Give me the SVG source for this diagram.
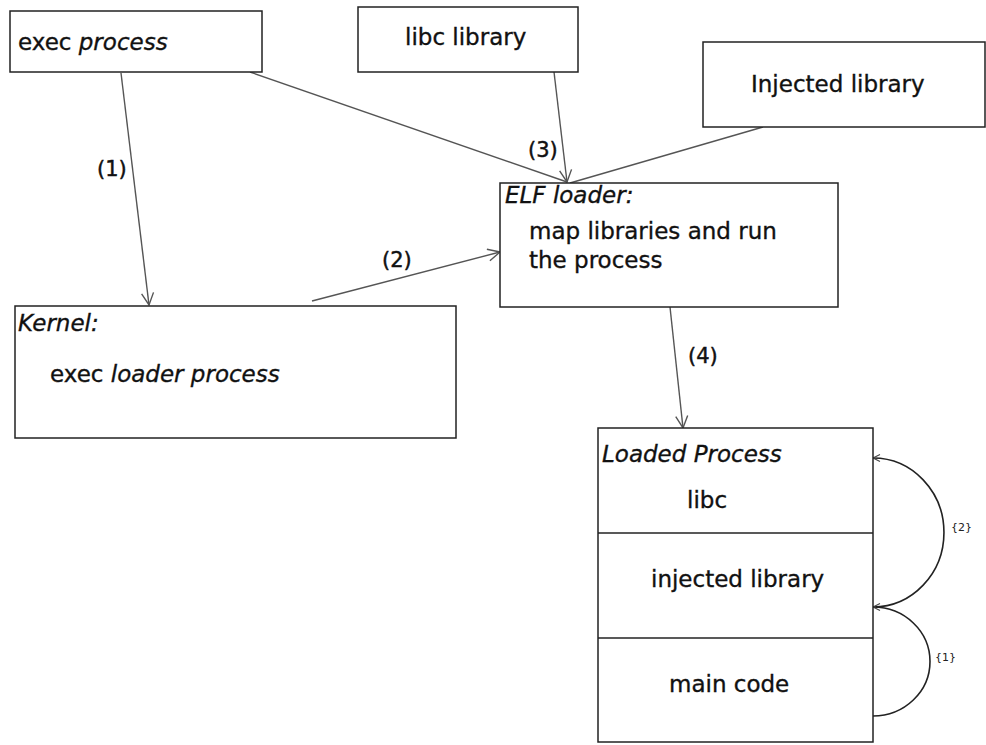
<svg xmlns="http://www.w3.org/2000/svg" width="986" height="745" viewBox="0 0 986 745">
  <style>
    .box { fill: #ffffff; stroke: #222222; stroke-width: 1.5; }
    .div { stroke: #222222; stroke-width: 1.5; fill: none; }
    .txt { font-family: "DejaVu Sans", Verdana, sans-serif; font-size: 23px; fill: #111111; stroke: #111111; stroke-width: 0.35; }
    .it { font-style: italic; }
    .lbl { font-family: "DejaVu Sans", Verdana, sans-serif; font-size: 21px; fill: #111111; stroke: #111111; stroke-width: 0.45; }
    .small { font-family: "DejaVu Sans", Verdana, sans-serif; font-size: 11px; fill: #222222; }
    .edge { stroke: #555555; stroke-width: 1.4; fill: none; }
    .loop { stroke: #222222; stroke-width: 1.6; fill: none; }
  </style>
  <defs>
    <marker id="arrow" markerUnits="userSpaceOnUse" markerWidth="16" markerHeight="16" refX="13" refY="7" orient="auto">
      <path d="M1,1 L13,7 L1,13" fill="none" stroke="#555555" stroke-width="1.4"/>
    </marker>
    <marker id="arrowSmall" markerUnits="userSpaceOnUse" markerWidth="10" markerHeight="10" refX="8" refY="4.5" orient="auto">
      <path d="M1,1 L8,4.5 L1,8" fill="none" stroke="#444444" stroke-width="1.1"/>
    </marker>
  </defs>

  <rect width="986" height="745" fill="#ffffff"/>

  <g id="connectors">
    <!-- (1) exec process -> Kernel -->
    <line class="edge" x1="121" y1="73" x2="149" y2="305" marker-end="url(#arrow)"/>
    <!-- (2) Kernel -> ELF loader -->
    <line class="edge" x1="312" y1="301" x2="500" y2="252" marker-end="url(#arrow)"/>
    <!-- (3) inputs into ELF loader -->
    <line class="edge" x1="250" y1="72" x2="567" y2="182"/>
    <line class="edge" x1="554" y1="72" x2="567" y2="182" marker-end="url(#arrow)"/>
    <line class="edge" x1="763" y1="127" x2="570" y2="183"/>
    <!-- (4) ELF loader -> Loaded Process -->
    <line class="edge" x1="670" y1="307" x2="683" y2="428" marker-end="url(#arrow)"/>
    <!-- call loops on the loaded process -->
    <path class="loop" d="M873,607 A71,74.5 0 0 0 873,458" marker-end="url(#arrowSmall)"/>
    <path class="loop" d="M873,716 A57,54.5 0 0 0 873,607" marker-end="url(#arrowSmall)"/>

    <text class="lbl" x="97" y="176">(1)</text>
    <text class="lbl" x="382" y="267">(2)</text>
    <text class="lbl" x="528" y="157">(3)</text>
    <text class="lbl" x="688" y="363">(4)</text>
    <text class="small" x="951" y="531">{2}</text>
    <text class="small" x="935" y="661">{1}</text>
  </g>

  <g id="exec-process">
    <rect class="box" x="10" y="11" width="252" height="61"/>
    <text class="txt" x="18" y="50">exec <tspan class="it">process</tspan></text>
  </g>

  <g id="libc-library">
    <rect class="box" x="358" y="7" width="220" height="65"/>
    <text class="txt" x="405" y="45">libc library</text>
  </g>

  <g id="injected-library">
    <rect class="box" x="703" y="42" width="282" height="85"/>
    <text class="txt" x="751" y="92">Injected library</text>
  </g>

  <g id="elf-loader">
    <rect class="box" x="500" y="183" width="338" height="124"/>
    <text class="txt it" x="505" y="203">ELF loader:</text>
    <text class="txt" x="529" y="239">map libraries and run</text>
    <text class="txt" x="529" y="268">the process</text>
  </g>

  <g id="kernel">
    <rect class="box" x="15" y="306" width="441" height="132"/>
    <text class="txt it" x="18" y="331">Kernel:</text>
    <text class="txt" x="50" y="382">exec <tspan class="it">loader process</tspan></text>
  </g>

  <g id="loaded-process">
    <rect class="box" x="598" y="428" width="275" height="314"/>
    <line class="div" x1="598" y1="533" x2="873" y2="533"/>
    <line class="div" x1="598" y1="638" x2="873" y2="638"/>
    <text class="txt it" x="602" y="462">Loaded Process</text>
    <text class="txt" x="687" y="508">libc</text>
    <text class="txt" x="651" y="587">injected library</text>
    <text class="txt" x="669" y="692">main code</text>
  </g>
</svg>
